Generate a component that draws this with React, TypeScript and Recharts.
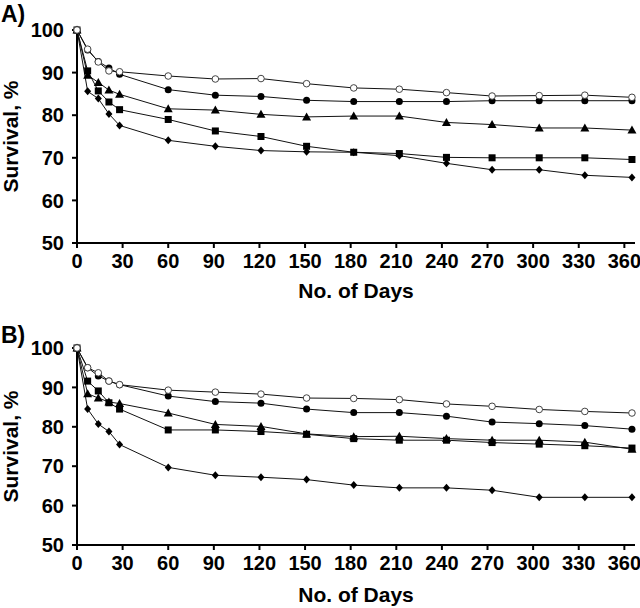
import { LineChart, Line, XAxis, YAxis, Label } from "recharts"

const days = [0, 7, 14, 21, 28, 60, 91, 121, 151, 182, 212, 243, 273, 304, 334, 365]
const xTicks = [0, 30, 60, 90, 120, 150, 180, 210, 240, 270, 300, 330, 360]
const yTicks = [50, 60, 70, 80, 90, 100]

// panel A
const openA = [100, 95.5, 92.5, 90.4, 90.2, 89.2, 88.5, 88.6, 87.4, 86.4, 86.1, 85.3, 84.5, 84.6, 84.7, 84.2]
const filledA = [100, 95.3, 92.6, 91.1, 89.6, 86.0, 84.7, 84.4, 83.5, 83.2, 83.2, 83.2, 83.4, 83.4, 83.4, 83.4]
const triA = [100, 89.4, 87.7, 85.9, 84.9, 81.5, 81.2, 80.2, 79.6, 79.8, 79.8, 78.3, 77.8, 77.0, 77.0, 76.5]
const sqA = [100, 90.4, 85.7, 83.1, 81.3, 79.0, 76.3, 75.0, 72.7, 71.3, 71.0, 70.1, 70.0, 70.0, 70.0, 69.6]
const diaA = [100, 85.6, 83.9, 80.3, 77.6, 74.1, 72.7, 71.7, 71.4, 71.3, 70.5, 68.7, 67.2, 67.2, 65.9, 65.4]

// panel B
const openB = [100, 95.0, 93.7, 91.6, 90.7, 89.3, 88.8, 88.3, 87.3, 87.2, 86.9, 85.8, 85.2, 84.4, 83.9, 83.5]
const filledB = [100, 95.0, 92.9, 91.6, 90.7, 87.8, 86.4, 86.0, 84.5, 83.6, 83.6, 82.7, 81.2, 80.8, 80.3, 79.4]
const triB = [100, 88.4, 87.3, 86.3, 85.9, 83.5, 80.6, 80.1, 78.2, 77.5, 77.6, 77.0, 76.6, 76.6, 76.1, 74.3]
const sqB = [100, 91.6, 89.1, 86.1, 84.5, 79.2, 79.2, 78.8, 78.1, 77.0, 76.6, 76.6, 76.0, 75.6, 75.2, 74.6]
const diaB = [100, 84.5, 80.7, 78.8, 75.5, 69.7, 67.7, 67.2, 66.6, 65.2, 64.5, 64.5, 63.9, 62.1, 62.1, 62.1]

const font = "'Liberation Sans', Arial, sans-serif"
const tickStyle = { fontSize: 20, fontWeight: "bold", fill: "#000", fontFamily: font }

type Shape = "open" | "circle" | "triangle" | "square" | "diamond"

const makeDot = (shape: Shape) => (props: any) => {
  const { cx, cy, index } = props
  if (cx == null || cy == null) return <g key={index} />
  if (shape === "open")
    return <circle key={index} cx={cx} cy={cy} r={3.3} fill="#fff" stroke="#444" strokeWidth={1} />
  if (shape === "circle")
    return <circle key={index} cx={cx} cy={cy} r={3.5} fill="#000" />
  if (shape === "triangle")
    return <polygon key={index} points={`${cx},${cy - 4.5} ${cx + 4.5},${cy + 3.5} ${cx - 4.5},${cy + 3.5}`} fill="#000" />
  if (shape === "square")
    return <rect key={index} x={cx - 3.5} y={cy - 3.5} width={7} height={7} fill="#000" />
  return <polygon key={index} points={`${cx},${cy - 4} ${cx + 3.5},${cy} ${cx},${cy + 4} ${cx - 3.5},${cy}`} fill="#000" />
}

const toRows = (series: number[][]) =>
  days.map((d, i) => ({
    day: d,
    open: series[0][i],
    circle: series[1][i],
    triangle: series[2][i],
    square: series[3][i],
    diamond: series[4][i],
  }))

function Panel({ tag, tagY, series, top, bottomAxis }: { tag: string; tagY: number; series: number[][]; top: number; bottomAxis: number }) {
  const rows = toRows(series)
  const order: Shape[] = ["diamond", "square", "triangle", "circle", "open"]
  return (
    <LineChart width={640} height={304} data={rows} margin={{ top, right: 5, bottom: 0, left: 0 }}>
      <XAxis
        dataKey="day"
        type="number"
        domain={[0, 367]}
        ticks={xTicks}
        interval={0}
        height={bottomAxis}
        tickSize={5}
        tickMargin={6}
        stroke="#000"
        strokeWidth={2}
        tick={tickStyle}
      >
        <Label
          content={(p: any) => {
            const vb = p.viewBox
            return (
              <text x={vb.x + vb.width / 2} y={vb.y + vb.height - 6} textAnchor="middle" fontSize={21} fontWeight="bold" fontFamily={font} fill="#000">
                No. of Days
              </text>
            )
          }}
        />
      </XAxis>
      <YAxis
        type="number"
        domain={[50, 100]}
        ticks={yTicks}
        width={77}
        tickSize={5}
        tickMargin={8}
        stroke="#000"
        strokeWidth={2}
        tick={tickStyle}
      >
        <Label
          content={(p: any) => {
            const vb = p.viewBox
            const cy = vb.y + vb.height / 2
            return (
              <g>
                <text x={18} y={cy} transform={`rotate(-90 18 ${cy})`} textAnchor="middle" fontSize={21} fontWeight="bold" fontFamily={font} fill="#000">
                  Survival, %
                </text>
                <text x={1} y={tagY} fontSize={23} fontWeight="bold" fontFamily={font} fill="#000">
                  {tag}
                </text>
              </g>
            )
          }}
        />
      </YAxis>
      {order.map((s) => (
        <Line
          key={s}
          dataKey={s}
          stroke="#111"
          strokeWidth={1}
          dot={makeDot(s)}
          activeDot={false}
          isAnimationActive={false}
        />
      ))}
    </LineChart>
  )
}

export default function App() {
  return (
    <div style={{ position: "absolute", left: 0, top: 0, width: 640, height: 608, background: "#fff" }}>
      <Panel tag="A)" tagY={22} series={[openA, filledA, triA, sqA, diaA]} top={30} bottomAxis={61} />
      <Panel tag="B)" tagY={39} series={[openB, filledB, triB, sqB, diaB]} top={44} bottomAxis={63} />
    </div>
  )
}
